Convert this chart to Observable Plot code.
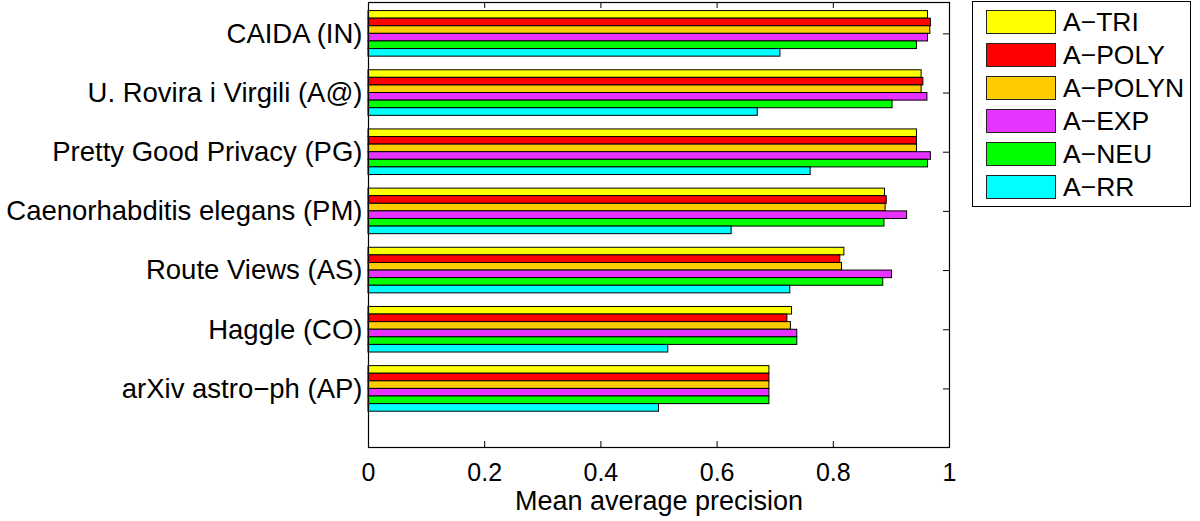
<!DOCTYPE html>
<html>
<head>
<meta charset="utf-8">
<script src="https://cdn.jsdelivr.net/npm/d3@7"></script>
<script src="https://cdn.jsdelivr.net/npm/@observablehq/plot@0.6"></script>
<style>
  html, body { margin: 0; padding: 0; background: white; }
  #wrap { position: relative; width: 1200px; height: 521px; font-family: "Liberation Sans", Arial, sans-serif; }
  #legend { position: absolute; left: 972px; top: 1px; width: 219px; height: 206px; border: 1px solid black; box-sizing: border-box; background: white; }
  .row { position: absolute; left: 13px; height: 24px; display: flex; align-items: center; }
  .sw { width: 68px; height: 22px; border: 1px solid #222; }
  .lab { margin-left: 7px; font-size: 26.5px; color: black; line-height: 24px; white-space: nowrap; }
</style>
</head>
<body>
<div id="wrap"></div>
<script>
// Networks (top to bottom) and link-prediction methods
const groups = [
  "CAIDA (IN)",
  "U. Rovira i Virgili (A@)",
  "Pretty Good Privacy (PG)",
  "Caenorhabditis elegans (PM)",
  "Route Views (AS)",
  "Haggle (CO)",
  "arXiv astro\u2212ph (AP)"
];
const series = ["A\u2212TRI", "A\u2212POLY", "A\u2212POLYN", "A\u2212EXP", "A\u2212NEU", "A\u2212RR"];
const colors = ["#ffff00", "#ff0000", "#ffcc00", "#e633ff", "#00ff00", "#00ffff"];

// Mean average precision per network, one array per method
const triValues   = [0.963, 0.952, 0.944, 0.889, 0.819, 0.729, 0.690];
const polyValues  = [0.968, 0.955, 0.944, 0.892, 0.812, 0.721, 0.690];
const polynValues = [0.967, 0.952, 0.944, 0.890, 0.815, 0.727, 0.690];
const expValues   = [0.963, 0.962, 0.968, 0.927, 0.901, 0.738, 0.690];
const neuValues   = [0.944, 0.902, 0.963, 0.888, 0.886, 0.738, 0.690];
const rrValues    = [0.709, 0.670, 0.761, 0.625, 0.726, 0.516, 0.500];

const xTicks = [0, 0.2, 0.4, 0.6, 0.8, 1];
const xLabel = "Mean average precision";

const valuesBySeries = [triValues, polyValues, polynValues, expValues, neuValues, rrValues];

// Grouped horizontal bars: group g sits at position g+1, bars stacked inside it
const groupWidth = 0.77;
const slot = groupWidth / series.length;
const rows = [];
groups.forEach((g, gi) => {
  series.forEach((s, si) => {
    const top = gi + 1 - groupWidth / 2 + si * slot;
    rows.push({group: g, series: s, value: valuesBySeries[si][gi], y1: top, y2: top + slot});
  });
});
const yTicks = groups.map((g, i) => i + 1);

const chart = Plot.plot({
  width: 1200,
  height: 521,
  marginLeft: 368,
  marginRight: 251,
  marginTop: 2,
  marginBottom: 74,
  style: {fontFamily: "'Liberation Sans', Arial, sans-serif", fontSize: "25px", background: "white", color: "black"},
  x: {domain: [0, 1]},
  y: {domain: [0.47, 7.99], reverse: true},
  color: {domain: series, range: colors},
  marks: [
    // inward tick marks on all four sides
    Plot.ruleX(xTicks, {x: d => d, stroke: "black", strokeDasharray: "6,433"}),
    Plot.ruleY(yTicks, {y: d => d, stroke: "black", strokeDasharray: "6,569"}),
    Plot.rect(rows, {x1: 0, x2: "value", y1: "y1", y2: "y2", fill: "series", stroke: "black", strokeWidth: 1}),
    Plot.frame({stroke: "black", strokeWidth: 1.2}),
    Plot.axisX(xTicks, {tickSize: 0, tickPadding: 16, fontSize: 25, label: null, tickFormat: d => String(d)}),
    Plot.axisY(yTicks, {tickSize: 0, tickPadding: 6, fontSize: 27.5, tickFormat: d => groups[d - 1], label: null}),
    Plot.text([xLabel], {text: d => d, frameAnchor: "bottom", lineAnchor: "top", dy: 43, fontSize: 27})
  ]
});
document.getElementById("wrap").appendChild(chart);

// Legend box on the right
const legend = document.createElement("div");
legend.id = "legend";
series.forEach((s, i) => {
  const row = document.createElement("div");
  row.className = "row";
  row.style.top = (8 + i * 33) + "px";
  const sw = document.createElement("div");
  sw.className = "sw";
  sw.style.background = colors[i];
  const lab = document.createElement("span");
  lab.className = "lab";
  lab.textContent = s;
  row.appendChild(sw);
  row.appendChild(lab);
  legend.appendChild(row);
});
document.getElementById("wrap").appendChild(legend);
</script>
</body>
</html>
